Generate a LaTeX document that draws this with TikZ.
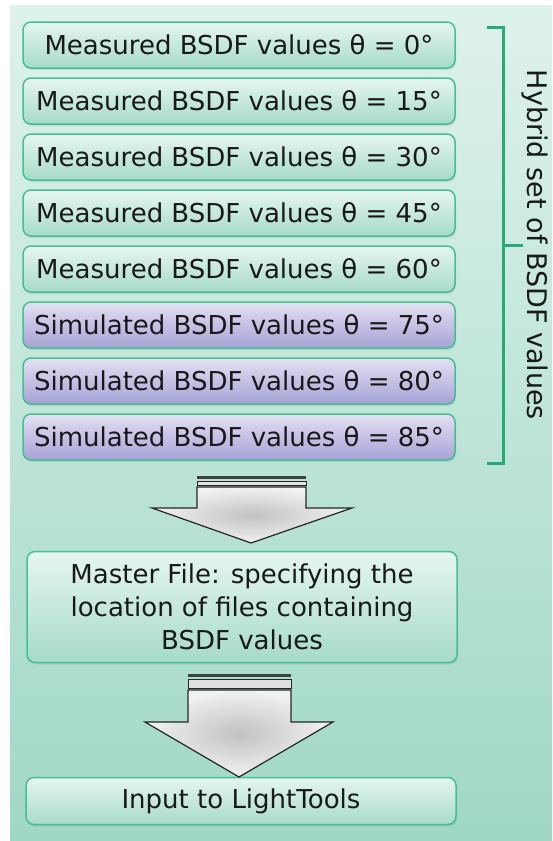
\documentclass[tikz,border=0pt]{standalone}
\usepackage{fontspec}
\setmainfont{DejaVu Sans}
\usetikzlibrary{shadows}
\definecolor{bgtop}{RGB}{222,242,236}
\definecolor{bgbot}{RGB}{160,216,196}
\definecolor{edgeteal}{RGB}{70,190,150}
\definecolor{meastop}{RGB}{230,246,240}
\definecolor{measbot}{RGB}{166,219,199}
\definecolor{simtop}{RGB}{228,224,242}
\definecolor{simbot}{RGB}{166,162,214}
\definecolor{bracegreen}{RGB}{40,170,120}
\definecolor{ink}{RGB}{25,25,25}
\begin{document}
\begin{tikzpicture}[x=1pt,y=-1pt,
  box/.style={rounded corners=8pt,draw=edgeteal,line width=1.5pt,minimum width=432pt,minimum height=46pt,
    font=\fontsize{26}{33}\selectfont,text=ink,align=center,inner sep=2pt,
    drop shadow={opacity=0.2,shadow xshift=1pt,shadow yshift=-2pt}},
  meas node/.style={box,top color=meastop,bottom color=measbot},
  sim node/.style={box,top color=simtop,bottom color=simbot},
  block/.style={draw=black!85,line width=1.2pt,inner color=black!24,outer color=black!5}]

  \useasboundingbox (0,0) rectangle (552,841);
  \fill[top color=bgtop,bottom color=bgbot] (10,5) rectangle (552,841);

  \node[meas node] (1) at (239,45) {Measured BSDF values θ = 0°};
  \node[meas node] (2) at (239,101) {Measured BSDF values θ = 15°};
  \node[meas node] (3) at (239,157) {Measured BSDF values θ = 30°};
  \node[meas node] (4) at (239,213) {Measured BSDF values θ = 45°};
  \node[meas node] (5) at (239,269) {Measured BSDF values θ = 60°};
  \node[sim node] (6) at (239,325) {Simulated BSDF values θ = 75°};
  \node[sim node] (7) at (239,381) {Simulated BSDF values θ = 80°};
  \node[sim node] (8) at (239,437) {Simulated BSDF values θ = 85°};

  \node[meas node,minimum width=430pt,minimum height=111pt] (9) at (242,607)
    {Master File: specifying the\\location of files containing\\BSDF values};
  \node[meas node,minimum width=430pt,minimum height=47pt] (10) at (241,801) {Input to LightTools};

  % bracket and its label
  \draw[bracegreen,line width=3pt] (487,27) -- (503,27) -- (503,463) -- (487,463);
  \draw[bracegreen,line width=3pt] (503,245) -- (523,245);
  \node[rotate=-90,anchor=base,font=\fontsize{27}{30}\selectfont,text=ink] (11) at (527,245) {Hybrid set of BSDF values};

  % block arrows
  \fill[black!75] (197,476) rectangle (306,479);
  \draw[black!85,fill=black!12,line width=1pt] (197,481) rectangle (306,485);
  \draw[block] (197,487) -- (306,487) -- (306,508) -- (352,508) -- (251,543) -- (152,508) -- (197,508) -- cycle;

  \fill[black!75] (188,674) rectangle (291,677);
  \draw[black!85,fill=black!12,line width=1pt] (188,679) rectangle (291,688);
  \draw[block] (188,690) -- (291,690) -- (291,722) -- (333,722) -- (239,777) -- (145,722) -- (188,722) -- cycle;
\end{tikzpicture}
\end{document}
